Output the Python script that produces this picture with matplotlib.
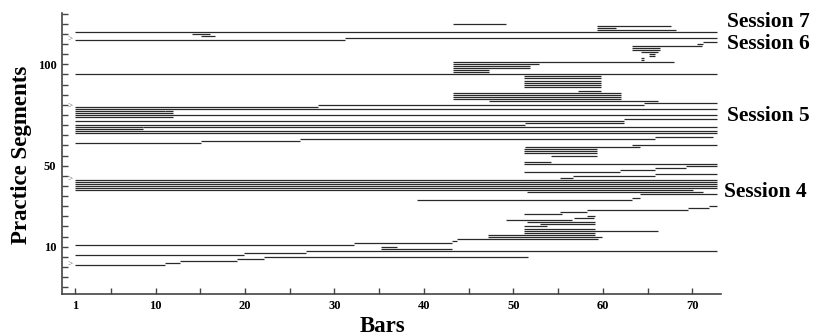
import matplotlib
matplotlib.use('Agg')
import matplotlib.pyplot as plt
from matplotlib.ticker import MultipleLocator, FixedLocator

plt.rcParams['font.family'] = ['Liberation Serif', 'DejaVu Serif']
plt.rcParams['font.weight'] = 'bold'

# one entry per practice segment: row index, first bar, last bar
seg_row = [1, 2, 3, 4, 5, 6, 7, 8, 9, 10,
           11, 12, 13, 14, 15, 16, 17, 18, 19, 20,
           21, 22, 23, 24, 25, 26, 27, 28, 29, 30,
           33, 34, 36, 37, 38,
           39, 40, 41, 42, 43,
           44, 45, 46, 47, 48, 49, 50, 51, 52,
           55, 56, 57, 58, 59, 60,
           61, 62, 63, 64,
           66, 67, 68, 69, 69, 70, 71, 72, 73, 74, 75, 76, 77, 77, 78,
           79, 80, 81, 82, 83, 84, 85, 86, 87,
           89, 90, 91, 92, 93, 94, 95,
           96, 97, 98, 99, 100, 101,
           102, 103, 104, 105, 106, 107, 108, 109, 110, 111,
           112, 113, 114, 115, 116, 117, 118, 119, 120]
seg_start = [1, 11.1, 12.7, 19.1, 22.1, 1, 19.9, 26.8, 35.2, 35.2,
             1, 32.2, 43.1, 43.7, 47.2, 47.2, 51.2, 51.2, 51.2, 51.2,
             53.0, 51.5, 49.2, 56.8, 58.2, 51.2, 55.2, 58.2, 69.5, 71.8,
             39.2, 63.3, 64.1, 51.5, 1,
             1, 1, 1, 1, 1,
             55.2, 56.7, 65.8, 51.2, 61.9, 65.8, 69.3, 51.2, 51.2,
             54.2, 51.2, 51.2, 51.2, 51.3, 63.3,
             1, 15.1, 26.1, 65.8,
             1, 1, 1, 1, 8.6, 1, 51.3, 1, 62.3, 1, 1, 1, 1, 11.1, 1,
             1, 28.2, 64.6, 47.3, 43.2, 43.2, 43.2, 43.2, 57.2,
             51.2, 51.2, 51.2, 51.2, 51.2, 51.2, 1,
             43.2, 43.2, 43.2, 43.2, 43.2, 43.2,
             64.2, 64.2, 65.2, 65.2, 64.2, 63.3, 63.3, 63.3, 70.5, 71.2,
             1, 31.2, 15.1, 14.1, 1, 59.3, 59.3, 59.3, 43.2]
seg_end = [11.1, 12.7, 19.1, 22.1, 51.6, 19.9, 26.8, 72.8, 43.1, 37.0,
           32.2, 43.1, 43.7, 59.5, 59.9, 59.1, 59.1, 66.2, 59.1, 53.8,
           59.1, 59.1, 56.5, 59.0, 59.1, 55.4, 58.2, 69.5, 71.8, 72.8,
           63.3, 64.1, 72.8, 71.2, 70.1,
           72.8, 72.8, 72.8, 72.8, 72.8,
           56.7, 65.8, 72.8, 61.9, 65.8, 69.3, 72.8, 72.8, 54.2,
           59.3, 59.3, 59.3, 59.3, 64.1, 72.8,
           15.1, 26.1, 65.8, 72.3,
           72.8, 72.8, 8.6, 8.6, 72.8, 51.3, 62.3, 62.3, 72.8, 12.0, 72.8, 12.0, 11.1, 12.0, 72.8,
           28.2, 64.6, 72.8, 66.2, 62.0, 62.0, 62.0, 62.0, 59.8,
           59.8, 59.8, 59.8, 59.8, 59.8, 59.8, 72.8,
           47.3, 47.3, 51.9, 51.9, 52.9, 67.9,
           64.6, 64.6, 65.8, 65.8, 66.2, 66.4, 66.4, 71.1, 71.2, 72.8,
           31.2, 72.8, 16.6, 16.1, 72.8, 68.2, 61.5, 67.6, 49.2]

# rows where a new session begins
start_rows = [1, 43, 79, 112]

session_names = ['Session 7', 'Session 6', 'Session 5', 'Session 4']
session_rows = [121, 110, 74.5, 37]

fig = plt.figure(figsize=(8.14, 3.35), dpi=100)
ax = fig.add_axes([0.0762, 0.1224, 0.8096, 0.8388])

ax.hlines(seg_row, seg_start, seg_end, colors='#2a2a2a', linewidth=0.9)

for r in start_rows:
    ax.text(0.5, r, '>', fontsize=6.5, color='#555555', fontweight='normal',
            ha='center', va='center')

for name, r in zip(session_names, session_rows):
    x = 73.85 if name != 'Session 4' else 73.5
    ax.text(x, r, name, fontsize=15.5, fontweight='bold', ha='left', va='center',
            clip_on=False)

ax.set_xlim(-0.45, 73.2)
ax.set_ylim(-13.3, 125.3)

ax.xaxis.set_major_locator(FixedLocator([1, 10, 20, 30, 40, 50, 60, 70]))
ax.xaxis.set_minor_locator(FixedLocator([5, 15, 25, 35, 45, 55, 65]))
ax.yaxis.set_major_locator(FixedLocator([10, 50, 100]))
ax.yaxis.set_minor_locator(MultipleLocator(5))
ax.tick_params(which='both', direction='in', length=4, width=1, color='#444444')
ax.tick_params(axis='both', labelsize=9, pad=4)

for side in ['top', 'right']:
    ax.spines[side].set_visible(False)
for side in ['left', 'bottom']:
    ax.spines[side].set_linewidth(1.2)
    ax.spines[side].set_color('#444444')

fig.text(22 / 814, 1 - 155 / 335, 'Practice Segments', rotation=90,
         fontsize=16.5, fontweight='bold', ha='center', va='center')
fig.text(382 / 814, 1 - 326 / 335, 'Bars', fontsize=16.5, fontweight='bold',
         ha='center', va='center')

plt.savefig('out.png', dpi=100)
